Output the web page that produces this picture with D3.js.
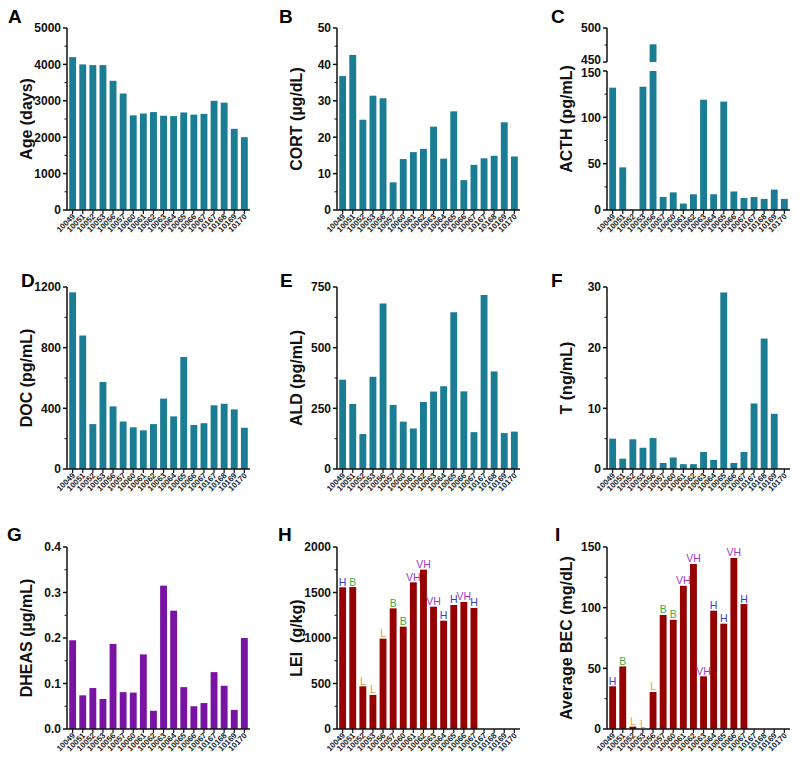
<!DOCTYPE html>
<html>
<head>
<meta charset="utf-8">
<script src="https://cdn.jsdelivr.net/npm/d3@7"></script>
<style>
  html, body { margin: 0; padding: 0; background: #fff; }
  svg { display: block; }
  text { font-family: "Liberation Sans", Arial, sans-serif; }
</style>
</head>
<body>
<svg id="chart" width="800" height="765"></svg>
<script>
// ---------------- data ----------------
const categories = ["10049","10051","10052","10053","10056","10057","10060","10061","10062",
                    "10063","10064","10065","10066","10067","10167","10168","10169","10170"];
const ageDays = [4200,4000,3980,3980,3550,3200,2600,2650,2690,2590,2580,2680,2620,2640,3000,2950,2230,2000];
const cort    = [36.8,42.6,24.8,31.4,30.7,7.6,14.0,15.9,16.8,22.9,14.1,27.1,8.2,12.4,14.2,14.9,24.1,14.7];
const acth    = [132,46,null,133,476,14,19,7,17,119,17,117,20,13,14,12,22,12];
const doc     = [1165,880,296,574,413,313,275,255,296,464,347,738,290,302,420,430,393,272];
const ald     = [368,268,144,380,682,264,195,167,276,319,341,646,320,152,717,402,148,154];
const testo   = [5.0,1.7,4.9,3.5,5.1,1.0,1.9,0.8,0.8,2.8,1.5,29.1,1.0,2.8,10.8,21.5,9.1,null];
const dheas   = [0.195,0.074,0.090,0.066,0.187,0.081,0.080,0.164,0.040,0.315,0.260,0.092,0.050,0.057,0.125,0.095,0.042,0.200];
const lei     = [1557,1560,469,374,993,1326,1125,1612,1751,1344,1190,1363,1396,1330,null,null,null,null];
const bec     = [35.2,51.6,2,0,30.5,94,90,118,136,43.4,97.5,86.8,141,103,null,null,null,null];
const drinkCategory = ["H","B","L","L","L","B","B","VH","VH","VH","H","H","VH","H",null,null,null,null];

const ticksAge   = [0,1000,2000,3000,4000,5000];
const ticksCort  = [0,10,20,30,40,50];
const ticksActhLow  = [0,50,100,150];
const ticksActhHigh = [450,500];
const ticksDoc   = [0,400,800,1200];
const ticksAld   = [0,250,500,750];
const ticksT     = [0,10,20,30];
const ticksDheas = [0,0.1,0.2,0.3,0.4];
const ticksLei   = [0,500,1000,1500,2000];
const ticksBec   = [0,50,100,150];

// ---------------- style ----------------
const teal = "#1a7d93", purple = "#7813a3", darkred = "#950000";
const catColor = { H: "#3b3bc8", B: "#45a845", L: "#e3a23c", VH: "#9a3cc0" };

const colX0 = [67, 337, 607];
const plotW = 182;
const rowTop = [28, 287, 547];
const rowBot = [210, 469, 729];

const svg = d3.select("#chart");

const panels = [
  { letter:"A", col:0, row:0, title:"Age (days)", values:ageDays, ticks:ticksAge, minorStep:500, color:teal, fmt:d3.format("d"), lx:8,  ly:23 },
  { letter:"B", col:1, row:0, title:"CORT (µg/dL)", values:cort, ticks:ticksCort, minorStep:5, color:teal, fmt:d3.format("d"), lx:279, ly:23 },
  { letter:"C", col:2, row:0, title:"ACTH (pg/mL)", values:acth, broken:true, color:teal, lx:551, ly:23 },
  { letter:"D", col:0, row:1, title:"DOC (pg/mL)", values:doc, ticks:ticksDoc, minorStep:200, color:teal, fmt:d3.format("d"), lx:21, ly:287 },
  { letter:"E", col:1, row:1, title:"ALD (pg/mL)", values:ald, ticks:ticksAld, minorStep:125, color:teal, fmt:d3.format("d"), lx:280, ly:287 },
  { letter:"F", col:2, row:1, title:"T (ng/mL)", values:testo, ticks:ticksT, minorStep:5, color:teal, fmt:d3.format("d"), lx:551, ly:287 },
  { letter:"G", col:0, row:2, title:"DHEAS (µg/mL)", values:dheas, ticks:ticksDheas, minorStep:0.05, color:purple, fmt:d3.format(".1f"), lx:7, ly:541 },
  { letter:"H", col:1, row:2, title:"LEI  (g/kg)", values:lei, ticks:ticksLei, minorStep:250, color:darkred, fmt:d3.format("d"), lx:278, ly:541, labels:drinkCategory },
  { letter:"I", col:2, row:2, title:"Average BEC (mg/dL)", values:bec, ticks:ticksBec, minorStep:25, color:darkred, fmt:d3.format("d"), lx:555, ly:541, labels:drinkCategory }
];

function drawYAxis(g, x0, scale, tickVals, minorVals, fmt, labelShift) {
  const ax = g.append("g").attr("transform", `translate(${x0},0)`);
  ax.append("line").attr("x1",0).attr("x2",0)
    .attr("y1", scale(d3.max(tickVals))).attr("y2", scale(d3.min(tickVals)))
    .attr("stroke","#111").attr("stroke-width",1.5);
  ax.selectAll(".maj").data(tickVals).join("line")
    .attr("x1",-4).attr("x2",0).attr("y1",d=>scale(d)).attr("y2",d=>scale(d))
    .attr("stroke","#111").attr("stroke-width",1.5);
  ax.selectAll(".min").data(minorVals).join("line")
    .attr("x1",-2.5).attr("x2",0).attr("y1",d=>scale(d)).attr("y2",d=>scale(d))
    .attr("stroke","#111").attr("stroke-width",1);
  ax.selectAll(".lab").data(tickVals).join("text")
    .attr("x",-6).attr("y",d=>scale(d) + (labelShift ? (labelShift[d] || 0) : 0)).attr("dy","0.36em")
    .attr("text-anchor","end").attr("font-size",12).attr("font-weight","bold").attr("fill","#111")
    .text(d=>fmt(d));
}

panels.forEach(p => {
  const x0 = colX0[p.col], x1 = x0 + plotW;
  const top = rowTop[p.row], bot = rowBot[p.row];
  const g = svg.append("g");

  const x = d3.scaleBand().domain(categories).range([x0 + 1, x1]).paddingInner(0.32).paddingOuter(0.12);

  // panel letter
  g.append("text").attr("x", p.lx).attr("y", p.ly).attr("font-size", 19).attr("font-weight","bold")
    .attr("fill","#000").text(p.letter);

  // y title
  g.append("text")
    .attr("transform", `translate(${x0 - 35},${(top + bot) / 2}) rotate(-90)`)
    .attr("text-anchor","middle").attr("font-size",16).attr("font-weight","bold").attr("fill","#111")
    .style("white-space","pre")
    .text(p.title);

  if (!p.broken) {
    const y = d3.scaleLinear().domain([0, d3.max(p.ticks)]).range([bot, top]);
    const minor = d3.range(0, d3.max(p.ticks) + 1e-9, p.minorStep).filter(v => !p.ticks.some(t => Math.abs(t - v) < 1e-9));
    g.selectAll(".bar").data(categories.map((c,i)=>({c, v:p.values[i]})).filter(d => d.v != null && d.v > 0))
      .join("rect")
      .attr("x", d => x(d.c)).attr("width", x.bandwidth())
      .attr("y", d => y(d.v)).attr("height", d => y(0) - y(d.v))
      .attr("fill", p.color);
    if (p.labels) {
      g.selectAll(".clab").data(categories.map((c,i)=>({c, v:p.values[i], lab:p.labels[i]})).filter(d=>d.lab && d.v != null))
        .join("text")
        .attr("x", d => x(d.c) + x.bandwidth()/2).attr("y", d => y(d.v) - 1.5)
        .attr("text-anchor","middle").attr("font-size",10.5).attr("fill", d => catColor[d.lab])
        .text(d => d.lab);
    }
    drawYAxis(g, x0, y, p.ticks, minor, p.fmt);
  } else {
    // broken axis: lower 0-150, upper 450-500
    const yLow = d3.scaleLinear().domain([0,150]).range([bot, 71]);
    const yHigh = d3.scaleLinear().domain([450,500]).range([62, top]);
    const data = categories.map((c,i)=>({c, v:p.values[i]})).filter(d=>d.v != null && d.v > 0);
    g.selectAll(".barL").data(data).join("rect")
      .attr("x", d => x(d.c)).attr("width", x.bandwidth())
      .attr("y", d => yLow(Math.min(d.v,150))).attr("height", d => yLow(0) - yLow(Math.min(d.v,150)))
      .attr("fill", p.color);
    g.selectAll(".barH").data(data.filter(d=>d.v > 450)).join("rect")
      .attr("x", d => x(d.c)).attr("width", x.bandwidth())
      .attr("y", d => yHigh(d.v)).attr("height", d => yHigh(450) - yHigh(d.v))
      .attr("fill", p.color);
    const fmt = d3.format("d");
    drawYAxis(g, x0, yLow, ticksActhLow, [25,75,125], fmt, {150: 1.5});
    drawYAxis(g, x0, yHigh, ticksActhHigh, [475], fmt, {450: -2});
  }

  // x axis
  const xa = g.append("g");
  xa.append("line").attr("x1", x0).attr("x2", x1 + 1).attr("y1", bot).attr("y2", bot)
    .attr("stroke","#111").attr("stroke-width",1.5);
  xa.selectAll(".xt").data(categories).join("line")
    .attr("x1", d => x(d) + x.bandwidth()/2).attr("x2", d => x(d) + x.bandwidth()/2)
    .attr("y1", bot).attr("y2", bot + 4).attr("stroke","#111").attr("stroke-width",1.2);
  xa.selectAll(".xl").data(categories).join("text")
    .attr("transform", d => `translate(${x(d) + x.bandwidth()/2 + 3},${bot + 7}) rotate(-45)`)
    .attr("text-anchor","end").attr("font-size",8).attr("font-weight","bold").attr("fill","#222")
    .text(d => d);
});
</script>
</body>
</html>
